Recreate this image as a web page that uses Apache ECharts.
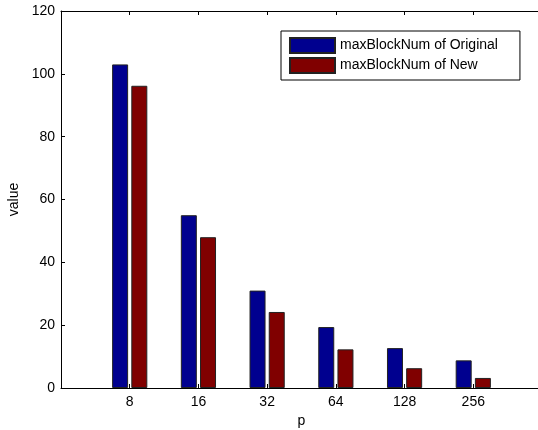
<!DOCTYPE html>
<html>
<head>
<meta charset="utf-8">
<script src="https://cdn.jsdelivr.net/npm/echarts@6/dist/echarts.min.js"></script>
<style>
html,body{margin:0;padding:0;background:#fff;}
#chart{width:538px;height:430px;}
</style>
</head>
<body>
<div id="chart"></div>
<script>
const categories = ['8', '16', '32', '64', '128', '256'];
const originalValues = [103, 55, 31, 19.4, 12.7, 8.8];
const newValues = [96.2, 48, 24.2, 12.3, 6.3, 3.2];
const yTicks = [0, 20, 40, 60, 80, 100, 120];
const seriesNames = ['maxBlockNum of Original', 'maxBlockNum of New'];

const FONT = "'Liberation Sans', Arial, Helvetica, sans-serif";
const chart = echarts.init(document.getElementById('chart'), null, {renderer: 'canvas'});

const toPoints = vals => vals.map((v, i) => [i + 1, v]);

chart.setOption({
  animation: false,
  backgroundColor: '#fff',
  textStyle: {fontFamily: FONT},
  grid: {left: 61, right: -4, top: 11, bottom: 42, containLabel: false, outerBoundsMode: 'none'},
  legend: {
    orient: 'vertical',
    left: 281,
    top: 31,
    align: 'left',
    itemWidth: 45,
    itemHeight: 15,
    itemGap: 3,
    itemTextGap: 5,
    padding: [6, 22, 6, 8],
    borderColor: '#000',
    borderWidth: 1,
    backgroundColor: '#fff',
    icon: 'rect',
    textStyle: {fontFamily: FONT, fontSize: 14, color: '#000'},
    data: seriesNames
  },
  xAxis: [{
    type: 'value',
    min: 0, max: categories.length + 1, interval: 1,
    name: 'p',
    nameLocation: 'middle',
    nameGap: 26,
    nameTextStyle: {fontFamily: FONT, fontSize: 14, color: '#000'},
    axisLine: {show: true, onZero: false, lineStyle: {color: '#000', width: 1}},
    axisTick: {show: true, inside: true, length: 4, lineStyle: {color: '#000'}},
    axisLabel: {
      fontFamily: FONT, fontSize: 14, color: '#000', margin: 7,
      formatter: v => categories[v - 1] !== undefined ? categories[v - 1] : ''
    },
    splitLine: {show: false}
  }, {
    type: 'value',
    position: 'top',
    min: 0, max: categories.length + 1, interval: 1,
    axisLine: {show: true, onZero: false, lineStyle: {color: '#000', width: 1}},
    axisTick: {show: true, inside: true, length: 4, lineStyle: {color: '#000'}},
    axisLabel: {show: false},
    splitLine: {show: false}
  }],
  yAxis: [{
    type: 'value',
    min: yTicks[0], max: yTicks[yTicks.length - 1], interval: 20,
    name: 'value',
    nameLocation: 'middle',
    nameGap: 35,
    nameTextStyle: {fontFamily: FONT, fontSize: 14, color: '#000'},
    axisLine: {show: true, onZero: false, lineStyle: {color: '#000', width: 1}},
    axisTick: {show: true, inside: true, length: 4, lineStyle: {color: '#000'}},
    axisLabel: {fontFamily: FONT, fontSize: 14, color: '#000', margin: 6},
    splitLine: {show: false}
  }],
  series: [{
    name: seriesNames[0],
    type: 'bar',
    xAxisIndex: 0,
    barWidth: 16,
    barGap: '20%',
    itemStyle: {color: '#00008F', borderColor: '#222', borderWidth: 1},
    data: toPoints(originalValues)
  }, {
    name: seriesNames[1],
    type: 'bar',
    xAxisIndex: 0,
    barWidth: 16,
    barGap: '20%',
    itemStyle: {color: '#800000', borderColor: '#222', borderWidth: 1},
    data: toPoints(newValues)
  }]
});
</script>
</body>
</html>
